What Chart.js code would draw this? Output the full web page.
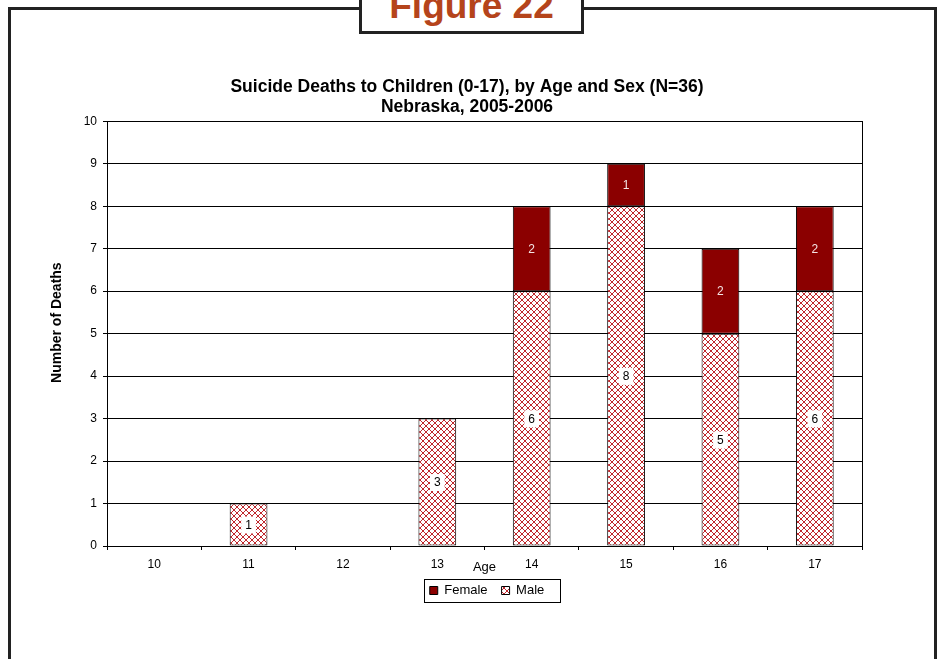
<!DOCTYPE html>
<html>
<head>
<meta charset="utf-8">
<title>Figure 22</title>
<script src="https://cdn.jsdelivr.net/npm/chart.js@4.4.1/dist/chart.umd.min.js"></script>
<style>
    html, body { margin: 0; padding: 0; background: #fff; }
    #wrap { position: relative; width: 940px; height: 659px; overflow: hidden; font-family: Arial, 'Liberation Sans', sans-serif; }
    #frame { position: absolute; left: 8px; top: 7px; width: 929px; height: 700px; border: 3px solid #222; box-sizing: border-box; }
    #figTag {
        position: absolute; left: 359px; top: -6px; width: 225px; height: 40px;
        border: 3px solid #222; box-sizing: border-box; background: #fff;
        overflow: hidden; z-index: 2;
    }
    #figTag span {
        position: absolute; left: 0; right: 0; top: -10px;
        color: #b5441b; font-weight: bold; font-size: 37px; line-height: 37px; text-align: center;
    }
    #deathsChart { position: absolute; left: 0; top: 0; z-index: 1; }
</style>
</head>
<body>
<div id="wrap">
    <div id="frame"></div>
    <div id="figTag"><span>Figure 22</span></div>
    <canvas id="deathsChart" width="940" height="659"></canvas>
</div>
<script>
// Ages on the x axis
const ages = ['10', '11', '12', '13', '14', '15', '16', '17'];
// Deaths by sex
const maleDeaths = [0, 1, 0, 3, 6, 8, 5, 6];
const femaleDeaths = [0, 0, 0, 0, 2, 1, 2, 2];
const titleLines = ['Suicide Deaths to Children (0-17), by Age and Sex (N=36)', 'Nebraska, 2005-2006'];
const yAxisTitle = 'Number of Deaths';

const FONT = "Arial, 'Liberation Sans', sans-serif";

// Red crosshatch fill used for the male series
function makeHatch() {
    const tile = document.createElement('canvas');
    tile.width = 6;
    tile.height = 6;
    const c = tile.getContext('2d');
    c.fillStyle = '#fff';
    c.fillRect(0, 0, 6, 6);
    c.strokeStyle = '#c0282d';
    c.lineWidth = 1;
    c.beginPath();
    c.moveTo(0, 0); c.lineTo(6, 6);
    c.moveTo(6, 0); c.lineTo(0, 6);
    c.stroke();
    return c.createPattern(tile, 'repeat');
}

const ctx = document.getElementById('deathsChart').getContext('2d');
const hatch = makeHatch();

// Title and legend sit a little right of the plot's centre
const blockShift = {
    id: 'blockShift',
    afterLayout(chart) {
        chart.legend.left += 36;
        chart.legend.right += 36;
        chart.titleBlock.left += 16;
        chart.titleBlock.right += 16;
    }
};

// Box around the plot area and the legend, plus the y axis title
const framePlugin = {
    id: 'framePlugin',
    afterDraw(chart) {
        const c = chart.ctx;
        const a = chart.chartArea;
        c.save();
        c.strokeStyle = '#000';
        c.lineWidth = 1;
        c.strokeRect(Math.round(a.left) + 0.5, Math.round(a.top) + 0.5, Math.round(a.right - a.left), Math.round(a.bottom - a.top));
        const boxes = chart.legend.legendHitBoxes;
        if (boxes && boxes.length) {
            const l = Math.min(...boxes.map(b => b.left)) - 6;
            const r = Math.max(...boxes.map(b => b.left + b.width)) + 15;
            const t = boxes[0].top - 5;
            const b = boxes[0].top + boxes[0].height + 5;
            c.strokeRect(Math.round(l) + 0.5, Math.round(t) + 0.5, Math.round(r - l), Math.round(b - t));
        }
        // y axis title, set slightly above the plot's middle
        const ys = chart.scales.y;
        c.translate(ys.left + 17, (a.top + a.bottom) / 2 - 11);
        c.rotate(-Math.PI / 2);
        c.font = 'bold 14px ' + FONT;
        c.fillStyle = '#000';
        c.textAlign = 'center';
        c.textBaseline = 'middle';
        c.fillText(yAxisTitle, 0, 0);
        c.restore();
    }
};

// Value labels in the middle of each segment
const valueLabels = {
    id: 'valueLabels',
    afterDatasetsDraw(chart) {
        const c = chart.ctx;
        c.save();
        c.font = '12px ' + FONT;
        c.textAlign = 'center';
        c.textBaseline = 'middle';
        chart.data.datasets.forEach((ds, di) => {
            const meta = chart.getDatasetMeta(di);
            meta.data.forEach((bar, i) => {
                const v = ds.data[i];
                if (!v) return;
                const p = bar.getCenterPoint();
                if (ds.label === 'Male') {
                    const w = c.measureText(String(v)).width + 8;
                    c.fillStyle = '#fff';
                    c.fillRect(p.x - w / 2, p.y - 8, w, 17);
                    c.fillStyle = '#000';
                } else {
                    c.fillStyle = '#f4e4e4';
                }
                c.fillText(String(v), p.x, p.y + 1);
            });
        });
        c.restore();
    }
};

new Chart(ctx, {
    type: 'bar',
    data: {
        labels: ages,
        datasets: [{
            label: 'Male',
            data: maleDeaths,
            backgroundColor: hatch,
            borderColor: '#000',
            borderWidth: 1,
            borderSkipped: false
        }, {
            label: 'Female',
            data: femaleDeaths,
            backgroundColor: '#8b0000',
            borderColor: '#000',
            borderWidth: 1,
            borderSkipped: false
        }]
    },
    options: {
        responsive: false,
        animation: false,
        layout: {
            padding: { top: 66, left: 40, right: 78, bottom: 52 }
        },
        datasets: {
            bar: { categoryPercentage: 1, barPercentage: 0.4 }
        },
        plugins: {
            title: {
                display: true,
                text: titleLines,
                color: '#000',
                font: { family: FONT, size: 17.5, weight: 'bold', lineHeight: 1.15 },
                padding: { top: 11, bottom: 4 }
            },
            legend: {
                position: 'bottom',
                reverse: true,
                labels: {
                    color: '#000',
                    font: { family: FONT, size: 13 },
                    boxWidth: 8,
                    boxHeight: 8,
                    padding: 14
                }
            },
            tooltip: { enabled: false }
        },
        scales: {
            x: {
                stacked: true,
                offset: true,
                grid: {
                    offset: true,
                    drawOnChartArea: false,
                    tickLength: 4,
                    color: '#000'
                },
                border: { color: '#000' },
                ticks: {
                    color: '#000',
                    padding: 7,
                    maxRotation: 0,
                    font: { family: FONT, size: 12 }
                },
                title: {
                    display: true,
                    text: 'Age',
                    color: '#000',
                    font: { family: FONT, size: 13 },
                    padding: { top: 0, bottom: -4.8 }
                },
                afterFit(scale) { scale.height = 24; }
            },
            y: {
                stacked: true,
                min: 0,
                max: 10,
                grid: {
                    color: '#000',
                    tickLength: 4
                },
                border: { color: '#000' },
                ticks: {
                    stepSize: 1,
                    color: '#000',
                    padding: 6,
                    font: { family: FONT, size: 12 }
                },
                afterFit(scale) { scale.width = 67; }
            }
        }
    },
    plugins: [blockShift, framePlugin, valueLabels]
});
</script>
</body>
</html>
